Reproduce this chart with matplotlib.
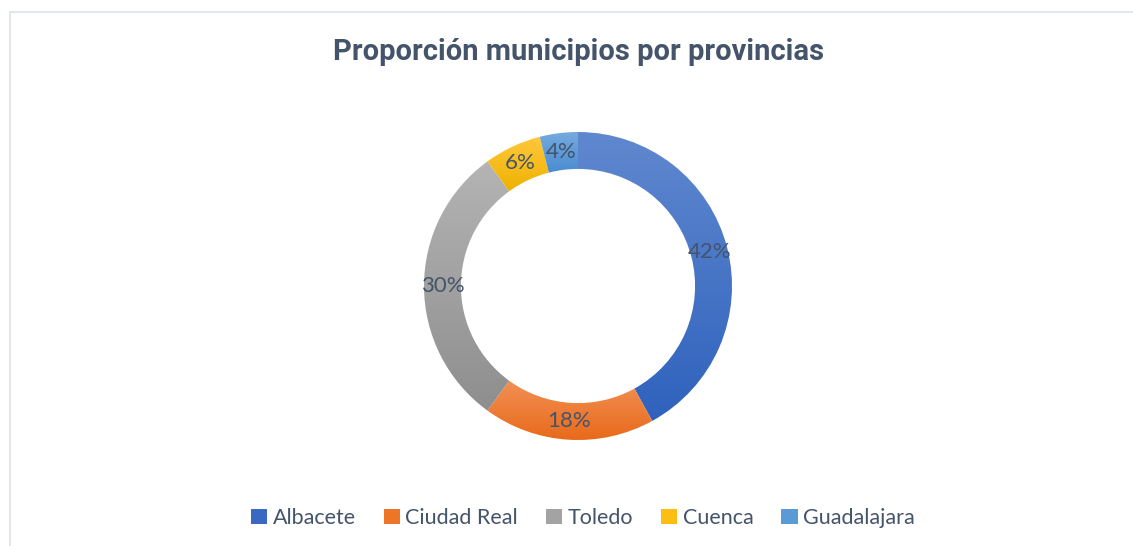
import numpy as np
import matplotlib
matplotlib.use("Agg")
from matplotlib import pyplot as plt
from matplotlib.colors import LinearSegmentedColormap
from matplotlib.lines import Line2D
from matplotlib.patches import Patch

# data (percent of municipalities)
provinces = ["Albacete", "Ciudad Real", "Toledo", "Cuenca", "Guadalajara"]
shares = [42, 18, 30, 6, 4]

# gradient (top colour, bottom colour) per slice, like the Excel fill
top_colors = ["#6088cf", "#f29055", "#b4b4b4", "#ffc83d", "#74aadf"]
bottom_colors = ["#2f62bd", "#e86a1a", "#8e8e8e", "#eeb200", "#4a8bd0"]
legend_colors = ["#3a69c1", "#ed7526", "#a3a3a3", "#fcbe12", "#5b9bd5"]

text_color = "#44546a"

fig = plt.figure(figsize=(11.33, 5.46), dpi=100)
fig.patch.set_facecolor("white")

# thin frame on the top and left edges
fig.add_artist(Line2D([10 / 1133, 1], [1 - 12 / 546, 1 - 12 / 546], color="#dde3ea", lw=1.2))
fig.add_artist(Line2D([10 / 1133, 10 / 1133], [0, 1 - 12 / 546], color="#dde3ea", lw=1.2))

fig.text(579 / 1133, 1 - 52 / 546, "Proporción municipios por provincias",
         ha="center", va="center", fontsize=21, fontweight="bold",
         family="Roboto", color=text_color)

# axes centered on the donut
cx, cy, r_px = 578, 286, 154
size = 2 * r_px / 0.98
ax = fig.add_axes([(cx - size / 2) / 1133, 1 - (cy + size / 2) / 546, size / 1133, size / 546])

wedges, _ = ax.pie(shares, startangle=90, counterclock=False, radius=0.98,
                   wedgeprops=dict(width=0.235, edgecolor="none"),
                   colors=legend_colors)

# vertical gradient inside each wedge, spanning the wedge's own height
grad = np.linspace(0, 1, 256).reshape(-1, 1)
for w, c_top, c_bot in zip(wedges, top_colors, bottom_colors):
    cmap = LinearSegmentedColormap.from_list("g", [c_top, c_bot])
    bb = w.get_path().get_extents()
    w.set_facecolor("none")
    im = ax.imshow(grad, cmap=cmap, extent=[bb.x0, bb.x1, bb.y0, bb.y1], origin="upper",
                   aspect="auto", zorder=w.get_zorder())
    im.set_clip_path(w)

# percentage labels on the ring
r_lab = 0.98 - 0.235 / 2
cum = 0
total = sum(shares)
for s in shares:
    mid = (cum + s / 2) / total * 2 * np.pi
    cum += s
    ax.text(r_lab * np.sin(mid), r_lab * np.cos(mid), "%d%%" % round(s / total * 100),
            ha="center", va="center", fontsize=16, family="Lato",
            color=text_color, zorder=5)

ax.set_xlim(-1, 1)
ax.set_ylim(-1, 1)
ax.set_aspect("equal")
ax.axis("off")

handles = [Patch(facecolor=c, edgecolor="none") for c in legend_colors]
fig.legend(handles, provinces, loc="center", bbox_to_anchor=(583 / 1133, 1 - 518 / 546),
           ncol=5, frameon=False, handlelength=0.75, handleheight=0.75,
           handletextpad=0.25, columnspacing=1.3,
           prop={"family": "Lato", "size": 15.5}, labelcolor=text_color)

fig.savefig("out.png", dpi=100)
